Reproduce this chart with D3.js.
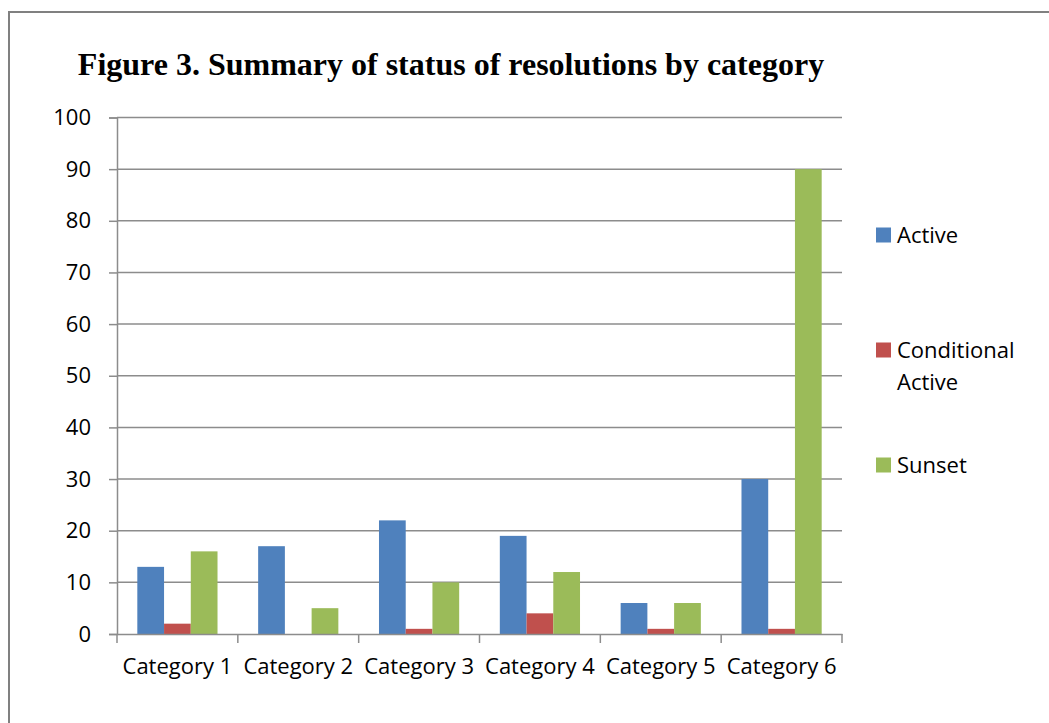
<!DOCTYPE html>
<html>
<head>
<meta charset="utf-8">
<script src="https://cdn.jsdelivr.net/npm/d3@7"></script>
<style>
  html, body { margin: 0; padding: 0; background: #fff; }
  svg { display: block; }
</style>
</head>
<body>
<svg class="svg" width="1049" height="723"></svg>
<script>
const categories = ['Category 1', 'Category 2', 'Category 3', 'Category 4', 'Category 5', 'Category 6'];
const seriesNames = ['Active', 'Conditional Active', 'Sunset'];
const active = [13, 17, 22, 19, 6, 30];
const conditionalActive = [2, 0, 1, 4, 1, 1];
const sunset = [16, 5, 10, 12, 6, 90];
const yTicks = [0, 10, 20, 30, 40, 50, 60, 70, 80, 90, 100];

const colors = ['#4f81bd', '#c0504d', '#9bbb59'];
const series = [active, conditionalActive, sunset];

const svg = d3.select('.svg');
const font = '"Open Sans", Lato, sans-serif';

// outer frame
svg.append('rect')
  .attr('x', 9).attr('y', 12)
  .attr('width', 1060).attr('height', 730)
  .attr('fill', 'none')
  .attr('stroke', '#808080')
  .attr('stroke-width', 2);

svg.append('text')
  .attr('x', 451).attr('y', 75)
  .attr('text-anchor', 'middle')
  .attr('font-family', '"Liberation Serif", "Times New Roman", serif')
  .attr('font-weight', 'bold')
  .attr('font-size', 32)
  .attr('fill', '#000')
  .text('Figure 3. Summary of status of resolutions by category');

const plotL = 117, plotR = 842, plotT = 117.5, plotB = 634;

const x = d3.scaleBand().domain(categories).range([plotL, plotR]).paddingInner(0).paddingOuter(0);
const y = d3.scaleLinear().domain([0, 100]).range([plotB, plotT]);
const inner = d3.scaleBand().domain(d3.range(series.length)).range([0, x.bandwidth()]).paddingInner(0).paddingOuter(0.76);

// gridlines
svg.append('g')
  .selectAll('line')
  .data(yTicks.slice(1))
  .join('line')
  .attr('x1', plotL).attr('x2', plotR)
  .attr('y1', d => y(d)).attr('y2', d => y(d))
  .attr('stroke', '#8c8c8c')
  .attr('stroke-width', 1.5);

// bars
const groups = svg.append('g')
  .selectAll('g')
  .data(series)
  .join('g')
  .attr('fill', (d, i) => colors[i]);

groups.selectAll('rect')
  .data((d, i) => d.map((v, j) => ({ v, cat: categories[j], s: i })))
  .join('rect')
  .attr('x', d => x(d.cat) + inner(d.s))
  .attr('width', inner.bandwidth())
  .attr('y', d => y(d.v))
  .attr('height', d => y(0) - y(d.v));

// y axis
const yAxis = svg.append('g')
  .attr('transform', `translate(${plotL},0)`)
  .call(d3.axisLeft(y).tickValues(yTicks).tickSize(8).tickPadding(18));
yAxis.select('.domain').attr('stroke', '#8c8c8c').attr('stroke-width', 1.5);
yAxis.selectAll('.tick line').attr('stroke', '#8c8c8c').attr('stroke-width', 1.5);
yAxis.selectAll('.tick text')
  .attr('font-family', font)
  .attr('font-size', 22)
  .attr('fill', '#000');

// x axis
const xAxis = svg.append('g')
  .attr('transform', `translate(0,${plotB})`)
  .call(d3.axisBottom(x).tickSize(0).tickPadding(24));
xAxis.select('.domain').attr('stroke', '#8c8c8c').attr('stroke-width', 1.5);
xAxis.selectAll('.tick text')
  .attr('font-family', font)
  .attr('font-size', 22)
  .attr('fill', '#000');
xAxis.selectAll('.sep')
  .data(d3.range(categories.length + 1))
  .join('line')
  .attr('class', 'sep')
  .attr('x1', i => plotL + i * x.bandwidth())
  .attr('x2', i => plotL + i * x.bandwidth())
  .attr('y1', 0).attr('y2', 9)
  .attr('stroke', '#8c8c8c')
  .attr('stroke-width', 1.5);

// legend
const legendRows = [
  { lines: ['Active'], y: 235 },
  { lines: ['Conditional', 'Active'], y: 350 },
  { lines: ['Sunset'], y: 465 }
];
const legend = svg.append('g')
  .selectAll('g')
  .data(legendRows)
  .join('g')
  .attr('transform', d => `translate(876,${d.y})`);
legend.append('rect')
  .attr('x', 0).attr('y', -7.5)
  .attr('width', 15).attr('height', 15)
  .attr('fill', (d, i) => colors[i]);
legend.append('text')
  .attr('font-family', font)
  .attr('font-size', 22)
  .attr('fill', '#000')
  .selectAll('tspan')
  .data(d => d.lines)
  .join('tspan')
  .attr('x', 21)
  .attr('y', (d, i) => 8 + i * 32)
  .text(d => d);
</script>
</body>
</html>
